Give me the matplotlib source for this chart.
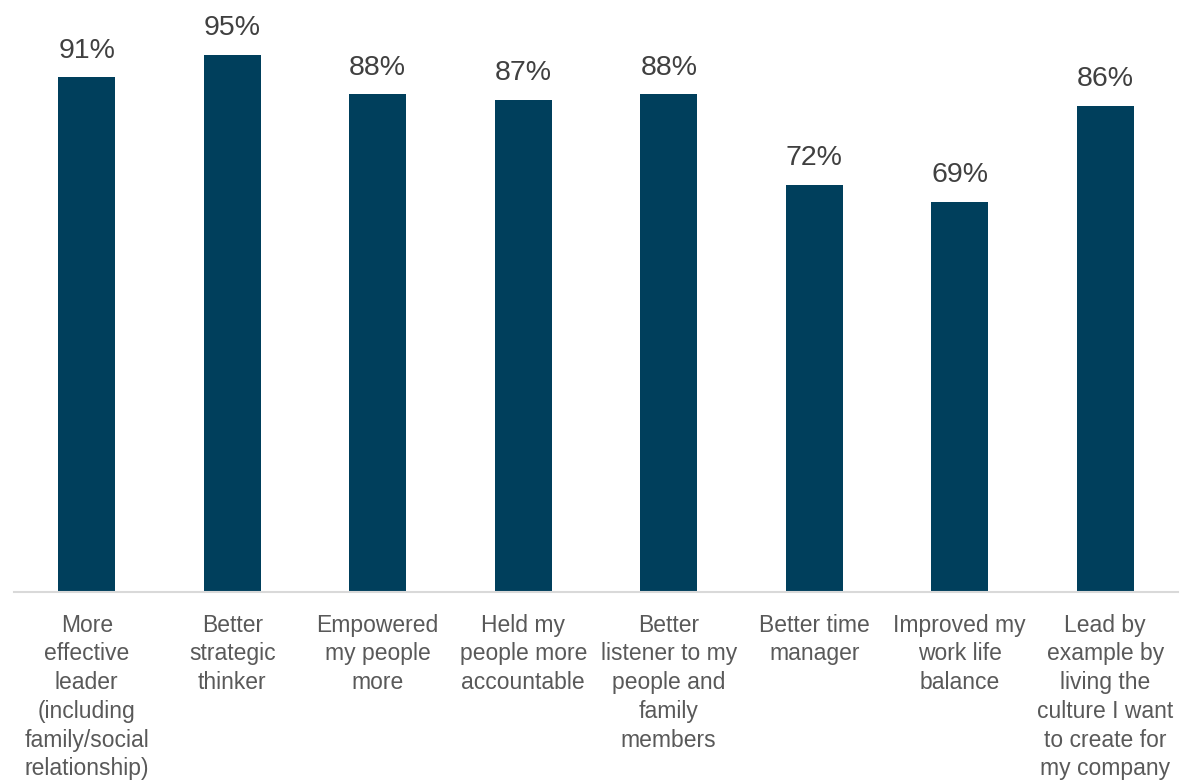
import matplotlib.pyplot as plt
import numpy as np

categories = [
    "More\neffective\nleader\n(including\nfamily/social\nrelationship)",
    "Better\nstrategic\nthinker",
    "Empowered\nmy people\nmore",
    "Held my\npeople more\naccountable",
    "Better\nlistener to my\npeople and\nfamily\nmembers",
    "Better time\nmanager",
    "Improved my\nwork life\nbalance",
    "Lead by\nexample by\nliving the\nculture I want\nto create for\nmy company",
]
values = [91, 95, 88, 87, 88, 72, 69, 86]

BAR_COLOR = "#003F5C"
plt.rcParams["font.family"] = ["Liberation Sans", "DejaVu Sans"]

fig = plt.figure(figsize=(11.93, 7.82), dpi=100)
ax = fig.add_axes([14 / 1193, 190 / 782, 1164 / 1193, 592 / 782])

x = np.arange(len(categories))
bars = ax.bar(x, values, width=0.39, color=BAR_COLOR, zorder=2)
for b, v in zip(bars, values):
    ax.annotate(f"{v}%", (b.get_x() + b.get_width() / 2, v), xytext=(0, 10),
                textcoords="offset points", ha="center", va="bottom",
                fontsize=20.5, color="#404040")

ax.set_xlim(-0.5, len(categories) - 0.5)
ax.set_ylim(0, 104.7)
ax.set_xticks(x)
ax.set_xticklabels(categories, fontsize=16.5, color="#595959", linespacing=1.32)
ax.tick_params(axis="x", length=0, pad=15.5)
ax.set_yticks([])
for s in ["top", "right", "left"]:
    ax.spines[s].set_visible(False)
ax.spines["bottom"].set_color("#D9D9D9")
ax.spines["bottom"].set_linewidth(1.5)

fig.savefig("out.png", dpi=100)
